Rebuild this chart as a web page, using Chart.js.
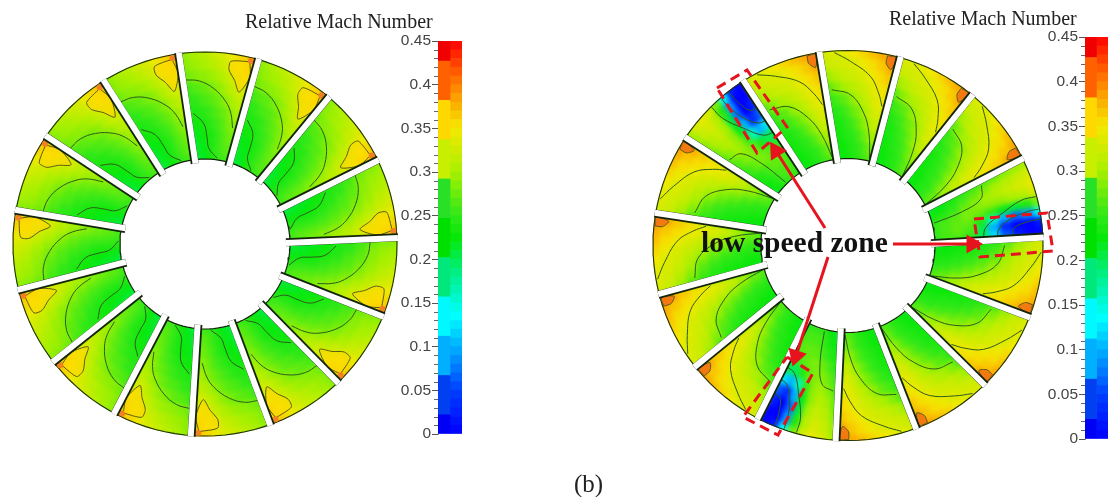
<!DOCTYPE html>
<html>
<head>
<meta charset="utf-8">
<script src="https://cdn.jsdelivr.net/npm/chart.js@4"></script>
<style>
  html, body { margin: 0; background: #fff; width: 1108px; height: 497px; overflow: hidden; }
  canvas, .txt { position: absolute; }
  .disk { filter: blur(2.6px); }
  .txt { font-family: "Liberation Serif", serif; white-space: nowrap; color: #222; }
</style>
</head>
<body>
<canvas id="diskL" class="disk"></canvas>
<canvas id="diskR" class="disk"></canvas>
<canvas id="overlay" width="1108" height="497" style="left:0;top:0"></canvas>
<canvas id="barL"></canvas>
<canvas id="barR"></canvas>
<canvas id="marks" width="1108" height="497" style="left:0;top:0"></canvas>
<div class="txt" style="left:245px;top:10px;font-size:20px">Relative Mach Number</div>
<div class="txt" style="left:889px;top:7px;font-size:20px">Relative Mach Number</div>
<div class="txt" style="left:701px;top:226px;font-size:29.5px;font-weight:bold;color:#111">low speed zone</div>
<div class="txt" style="left:574px;top:470px;font-size:25px">(b)</div>
<script>
const PASSAGES = 15;

// Mach number, rows go outer rim -> hub, columns across one passage
const leftPassageMach = [
  [.29, .30, .31, .32, .33, .345, .36, .37],
  [.285, .295, .30, .31, .32, .335, .35, .36],
  [.275, .285, .29, .295, .305, .32, .335, .345],
  [.255, .265, .27, .28, .29, .305, .32, .33],
  [.245, .25, .26, .265, .275, .29, .305, .315],
  [.235, .24, .245, .255, .265, .275, .29, .305],
  [.225, .23, .235, .245, .255, .265, .28, .29],
  [.215, .22, .225, .235, .245, .26, .27, .28],
  [.21, .215, .22, .23, .245, .255, .265, .27],
  [.205, .21, .215, .225, .24, .25, .255, .26],
];
const rightPassageMach = [
  [.33, .335, .34, .35, .36, .37, .38, .39],
  [.32, .325, .33, .335, .345, .355, .365, .38],
  [.295, .31, .32, .325, .33, .345, .355, .365],
  [.265, .285, .30, .31, .32, .33, .345, .355],
  [.245, .26, .27, .29, .305, .32, .335, .345],
  [.235, .245, .255, .27, .285, .305, .325, .335],
  [.23, .235, .245, .255, .27, .29, .31, .325],
  [.225, .23, .24, .245, .255, .27, .29, .305],
  [.22, .225, .23, .24, .245, .255, .27, .28],
  [.215, .22, .225, .235, .24, .25, .26, .265],
];
const lowSpeedMach = [
  [.30, .33, .34, .33, .28, .14, .02, .0],
  [.295, .32, .33, .31, .24, .09, .0, .0],
  [.285, .31, .32, .30, .21, .07, .0, .02],
  [.27, .30, .31, .29, .22, .10, .03, .06],
  [.26, .285, .30, .29, .25, .16, .10, .12],
  [.25, .27, .285, .285, .27, .24, .20, .20],
  [.24, .255, .27, .28, .28, .27, .26, .25],
  [.225, .24, .25, .26, .27, .27, .27, .26],
  [.21, .225, .235, .25, .26, .26, .26, .26],
  [.20, .215, .225, .24, .25, .25, .25, .25],
];
const lowSpeedPassages = [3, 8, 13];

// contour lines as [across passage, hub->rim]
const leftContours = [
  [[.05, .75], [.25, .73], [.47, .66], [.68, .55], [.8, .45], [.89, .32]],
  [[.12, .43], [.31, .33], [.38, .2], [.43, .1], [.67, .015]],
];
const leftHotspot = [[.91, .96], [.67, .93], [.66, .85], [.76, .76], [.86, .66], [.96, .82]];
const leftHotCore = [.92, .97];
const rightContours = [
  [[.19, .985], [.39, .9], [.67, .775], [.83, .635], [.93, .52]],
  [[.11, .645], [.4, .59], [.64, .43], [.8, .25], [.94, .02]],
];
const rightHotspot = [[.85, .99], [.85, .92], [.93, .87], [.96, .99]];
const lowSpeedContours = [
  [[.98, .45], [.8, .48], [.62, .65], [.5, .85], [.5, .99]],
  [[.98, .58], [.85, .6], [.72, .72], [.66, .9], [.66, .99]],
  [[.97, .72], [.86, .74], [.8, .85], [.78, .99]],
  [[.1, .55], [.3, .5], [.42, .3], [.5, .02]],
];

// colour bar
const colorStops = [[0, '#0000ff'], [.05, '#0040ff'], [.1, '#00b0ff'], [.135, '#00ffff'], [.18, '#00f090'],
  [.225, '#08e808'], [.25, '#30e818'], [.3, '#a8f000'], [.35, '#f5e800'], [.4, '#ff8000'], [.45, '#ff0000']];
const bandEdges = [0, .022, .067, .112, .157, .202, .247, .292, .337, .382, .427, .45];
const bandColors = ['#0000f5', '#0040f0', '#00b0ff', '#00f8ff', '#00e87c', '#00e000', '#28e028', '#c8ee00', '#ffd800', '#ff6000', '#f00000'];
const axisTicks = [0, .05, .1, .15, .2, .25, .3, .35, .4, .45];

// low speed zone annotations
const arrows = [
  [[825, 228], [776, 151]],
  [[893, 244], [972, 244]],
  [[828, 257], [796, 356]],
];
const dashedBoxes = [
  [[717, 88], [747, 70], [787, 127], [757, 153], [717, 88]],
  [[974, 219], [1047, 213], [1053, 251], [980, 257], [974, 219]],
  [[787, 357], [813, 373], [778, 435], [743, 417], [787, 357]],
];

const disks = {
  left: { cx: 205, cy: 244, rIn: 85, rOut: 192, start: -8, hubShift: .7 },
  right: { cx: 848, cy: 245.5, rIn: 87, rOut: 195, start: -8.6, hubShift: 1 },
};
// colours run a bit past the rim and hub so the blur does not fade at the edges
const OVERRUN = 6;

function hexRgb(h) {
  return [1, 3, 5].map(i => parseInt(h.slice(i, i + 2), 16));
}
function machColor(v) {
  let i = 0;
  while (i < colorStops.length - 2 && v > colorStops[i + 1][0]) i++;
  const [a, ca] = colorStops[i], [b, cb] = colorStops[i + 1];
  const t = Math.min(1, Math.max(0, (v - a) / (b - a)));
  const A = hexRgb(ca), B = hexRgb(cb);
  return `rgb(${A.map((c, k) => Math.round(c + (B[k] - c) * t)).join(',')})`;
}

function makeDisk(id, disk, base, special) {
  const el = document.getElementById(id);
  const size = (disk.rOut + OVERRUN) * 2 + 2;
  el.width = size; el.height = size;
  el.style.left = (disk.cx - size / 2) + 'px';
  el.style.top = (disk.cy - size / 2) + 'px';
  const rows = base.length, cols = base[0].length;
  const datasets = [];
  for (let r = 0; r < rows; r++) {
    const colors = [];
    for (let p = 0; p < PASSAGES; p++) {
      const m = special.includes(p) ? lowSpeedMach : base;
      for (let c = 0; c < cols; c++) colors.push(machColor(m[r][c]));
    }
    datasets.push({
      data: colors.map(() => 1),
      backgroundColor: colors,
      borderColor: colors,
      borderWidth: 1,
      rotation: disk.start,
    });
  }
  new Chart(el, {
    type: 'doughnut',
    data: { datasets },
    options: {
      responsive: false,
      animation: false,
      cutout: disk.rIn - OVERRUN,
      layout: { padding: 0 },
      plugins: { legend: { display: false }, tooltip: { enabled: false } },
    },
  });
}

function makeBar(id, left, top, bottom) {
  const el = document.getElementById(id);
  const axisW = 50, barW = id === 'barL' ? 24 : 23, pad = 10;
  el.width = axisW + barW;
  el.height = bottom - top + pad * 2;
  el.style.left = (left - axisW) + 'px';
  el.style.top = (top - pad) + 'px';
  const datasets = [];
  bandColors.forEach((c, i) => datasets.push({
    data: [[bandEdges[i], bandEdges[i + 1]], null], backgroundColor: c,
  }));
  for (let v = 0; v < 45; v++) {
    datasets.push({
      data: [null, [v / 100, (v + 1) / 100]], backgroundColor: machColor(v / 100 + .005),
    });
  }
  datasets.forEach(d => { d.grouped = false; d.barPercentage = 1; d.categoryPercentage = 1; });
  new Chart(el, {
    type: 'bar',
    data: { labels: ['bands', 'smooth'], datasets },
    options: {
      responsive: false,
      animation: false,
      layout: { padding: { top: pad, bottom: pad, left: 0, right: 0 } },
      plugins: { legend: { display: false }, tooltip: { enabled: false } },
      scales: {
        x: { display: false },
        y: {
          min: 0, max: .45,
          afterFit: s => { s.width = axisW; s.paddingTop = 0; s.paddingBottom = 0; },
          afterBuildTicks: s => { s.ticks = axisTicks.map(value => ({ value })); },
          border: { color: '#999' },
          grid: { drawOnChartArea: false, tickLength: 6, tickColor: '#555' },
          ticks: {
            padding: 1, color: '#444',
            font: { family: '"Liberation Sans", Arial, sans-serif', size: 15.5 },
            callback: v => String(+v.toFixed(2)),
          },
        },
      },
    },
    plugins: [{
      id: 'minorTicks',
      afterDraw(chart) {
        const { ctx, scales: { y }, chartArea } = chart;
        ctx.save();
        ctx.strokeStyle = '#666';
        for (let v = 1; v < 45; v++) {
          if (v % 5 === 0) continue;
          const py = Math.round(y.getPixelForValue(v / 100)) + .5;
          ctx.beginPath();
          ctx.moveTo(chartArea.left - 4, py);
          ctx.lineTo(chartArea.left, py);
          ctx.stroke();
        }
        ctx.restore();
      },
    }],
  });
}

function polar(disk, k, u, rho) {
  const a = (disk.start + 24 * (k + u)) * Math.PI / 180;
  const r = disk.rIn + rho * (disk.rOut - disk.rIn);
  return { x: disk.cx + r * Math.sin(a), y: disk.cy - r * Math.cos(a) };
}
function circle(disk, r) {
  const pts = [];
  for (let d = 0; d <= 360; d += 3) {
    const a = d * Math.PI / 180;
    pts.push({ x: disk.cx + r * Math.sin(a), y: disk.cy - r * Math.cos(a) });
  }
  return pts;
}

function overlayDatasets() {
  const out = [];
  const addContour = (disk, k, pts) => out.push({
    data: pts.map(p => polar(disk, k, p[0], p[1])),
    borderColor: '#2f5a1c', borderWidth: 1, tension: .4, pointRadius: 0, order: 3,
  });
  const addHot = (disk, k, pts, fill) => out.push({
    data: pts.concat([pts[0]]).map(p => polar(disk, k, p[0], p[1])),
    borderColor: '#5a5a14', borderWidth: 1, tension: .25, pointRadius: 0, order: 4,
    fill: 'shape', backgroundColor: fill,
  });
  for (const disk of [disks.left, disks.right]) {
    const isLeft = disk === disks.left;
    // crisp rim and hub over the blurred colours
    out.push({ data: circle(disk, disk.rOut + 10.5), borderColor: '#fff', borderWidth: 20, pointRadius: 0, order: 6 });
    out.push({ data: circle(disk, disk.rIn), borderColor: '#14240a', borderWidth: 1.2, pointRadius: 0, order: 5, fill: 'shape', backgroundColor: '#fff' });
    out.push({ data: circle(disk, disk.rOut), borderColor: '#1c3010', borderWidth: 1.1, pointRadius: 0, order: 5 });
    for (let k = 0; k < PASSAGES; k++) {
      const low = !isLeft && lowSpeedPassages.includes(k);
      if (isLeft) {
        leftContours.forEach(c => addContour(disk, k, c));
        addHot(disk, k, leftHotspot, 'rgba(255,215,0,.6)');
        out.push({
          data: [polar(disk, k, leftHotCore[0], leftHotCore[1])],
          pointRadius: 3, pointBackgroundColor: '#f08020', pointBorderWidth: 0, order: 3,
        });
      } else if (low) {
        lowSpeedContours.forEach(c => addContour(disk, k, c));
      } else {
        rightContours.forEach(c => addContour(disk, k, c));
        addHot(disk, k, rightHotspot, 'rgba(240,110,20,.8)');
      }
      // blade: dark edge under a white strip, the strip sits a little clockwise
      const a0 = disk.start + disk.hubShift + 24 * k, a1 = disk.start + 24 * k;
      const rad = d => d * Math.PI / 180;
      const blade = [
        { x: disk.cx + (disk.rIn - 4) * Math.sin(rad(a0)), y: disk.cy - (disk.rIn - 4) * Math.cos(rad(a0)) },
        { x: disk.cx + (disk.rOut + 1) * Math.sin(rad(a1)), y: disk.cy - (disk.rOut + 1) * Math.cos(rad(a1)) },
      ];
      const nudge = { x: .8 * Math.cos(rad(a1)), y: .8 * Math.sin(rad(a1)) };
      const strip = blade.map(p => ({ x: p.x + nudge.x, y: p.y + nudge.y }));
      out.push({ data: blade, borderColor: '#14240a', borderWidth: 8, pointRadius: 0, order: 2 });
      out.push({ data: strip, borderColor: '#ffffff', borderWidth: 6, pointRadius: 0, order: 1 });
    }
  }
  return out;
}

function markDatasets() {
  const out = [];
  dashedBoxes.forEach(b => out.push({
    data: b.map(p => ({ x: p[0], y: p[1] })),
    borderColor: '#e6141e', borderWidth: 3, borderDash: [10, 6], pointRadius: 0,
  }));
  arrows.forEach(a => {
    const ang = Math.atan2(a[1][0] - a[0][0], a[0][1] - a[1][1]) * 180 / Math.PI;
    out.push({
      data: a.map(p => ({ x: p[0], y: p[1] })),
      borderColor: '#e6141e', borderWidth: 3,
      pointStyle: 'triangle', pointRadius: [0, 8], pointRotation: ang,
      pointBackgroundColor: '#e6141e', pointBorderColor: '#e6141e',
    });
  });
  return out;
}

function makePageChart(id, datasets) {
  new Chart(document.getElementById(id), {
    type: 'scatter',
    data: { datasets: datasets.map(d => ({ showLine: true, ...d })) },
    options: {
      responsive: false,
      animation: false,
      layout: { padding: 0, autoPadding: false },
      plugins: { legend: { display: false }, tooltip: { enabled: false } },
      scales: {
        x: { display: false, min: 0, max: 1108 },
        y: { display: false, min: 0, max: 497, reverse: true },
      },
    },
  });
}

makeDisk('diskL', disks.left, leftPassageMach, []);
makeDisk('diskR', disks.right, rightPassageMach, lowSpeedPassages);
makePageChart('overlay', overlayDatasets());
makeBar('barL', 438, 41, 434);
makeBar('barR', 1085, 37, 439);
makePageChart('marks', markDatasets());
</script>
</body>
</html>
